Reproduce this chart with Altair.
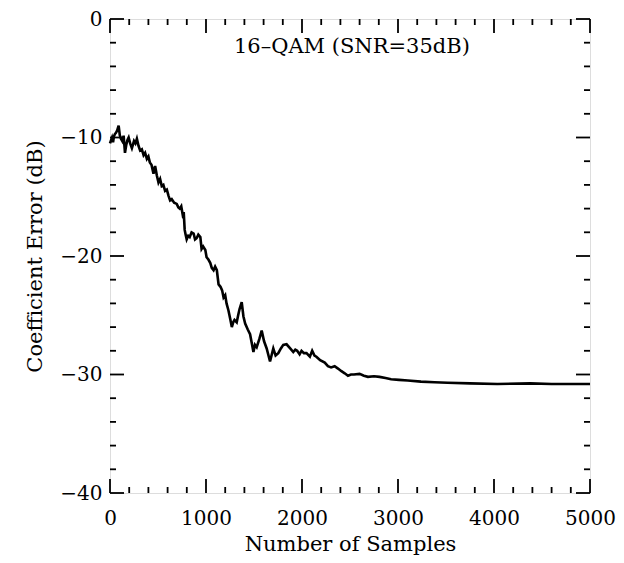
import altair as alt
import pandas as pd

# Curve (samples, coefficient error in dB)
samples = [0, 12, 21, 32, 41, 52, 62, 75, 90, 102, 114, 128, 142, 156, 170, 182, 194, 210, 228,
           250, 265, 280, 297, 314, 332, 350, 366, 384, 400, 415, 432, 453, 470, 488,
           505, 522, 539, 556, 574, 592, 609, 626, 643, 668, 695, 712, 726, 742, 757, 768,
           778, 788, 799, 815, 830, 850, 871, 886, 902, 920, 941, 954, 970, 993, 1006,
           1025, 1045, 1060, 1079, 1095, 1113, 1131, 1151, 1168, 1183, 1200, 1214, 1234,
           1252, 1269, 1283, 1297, 1320, 1335, 1349, 1372, 1390, 1408, 1435, 1459, 1478,
           1494, 1510, 1528, 1556, 1580, 1605, 1632, 1667, 1701, 1725, 1753, 1780, 1805,
           1839, 1877, 1909, 1930, 1950, 1975, 1995, 2020, 2047, 2082, 2106, 2130, 2150,
           2189, 2237, 2270, 2303, 2340, 2375, 2407, 2445, 2479, 2510, 2541, 2600, 2645,
           2687, 2750, 2808, 2870, 2928, 3010, 3102, 3239, 3380, 3516, 3750, 4035, 4377,
           4600, 4792, 5000]
error_db = [-10.5, -10.2, -10.0, -10.4, -9.9, -9.7, -9.6, -9.4, -9.0, -9.8, -10.1, -10.3,
            -9.85, -11.3, -10.6, -10.2, -10.0, -10.5, -10.9, -10.3, -10.5, -10.1, -10.7,
            -11.1, -11.0, -11.5, -11.3, -11.8, -11.6, -12.1, -12.3, -13.05, -12.4, -13.2,
            -13.8, -13.5, -14.1, -14.0, -14.5, -14.4, -14.9, -15.3, -15.2, -15.5, -15.6,
            -15.9, -16.0, -15.8, -16.5, -16.3, -17.8, -18.2, -18.6, -18.3, -18.4, -18.0,
            -18.1, -18.6, -18.5, -18.2, -18.4, -19.4, -19.2, -19.5, -20.1, -20.3, -20.6,
            -21.0, -21.2, -20.9, -21.2, -22.4, -22.6, -22.9, -23.5, -23.3, -24.0, -24.6,
            -25.3, -26.0, -25.6, -25.4, -25.6, -25.0, -24.5, -23.9, -25.1, -25.7, -26.2,
            -26.6, -27.4, -28.1, -27.5, -27.7, -27.0, -26.3, -27.2, -27.8, -28.9, -27.8,
            -28.4, -28.2, -27.8, -27.5, -27.45, -27.8, -28.1, -27.9, -28.0, -28.3, -28.0,
            -28.2, -28.2, -28.5, -28.0, -28.4, -28.5, -28.8, -29.0, -29.3, -29.4, -29.3,
            -29.5, -29.7, -29.9, -30.1, -30.0, -30.0, -29.95, -30.1, -30.2, -30.15, -30.2,
            -30.3, -30.4, -30.45, -30.5, -30.6, -30.65, -30.7, -30.75, -30.8, -30.75,
            -30.8, -30.8, -30.8]

x_major = [0, 1000, 2000, 3000, 4000, 5000]
x_minor = [v for v in range(0, 5001, 200) if v % 1000 != 0]
y_major = [-40, -30, -20, -10, 0]
y_minor = [v for v in range(-40, 1, 2) if v % 10 != 0]

annotation = "16\u2013QAM (SNR=35dB)"
x_title = "Number of Samples"
y_title = "Coefficient Error (dB)"

W, H = 480, 474
MAJ, MIN = 14, 6
FONT = "DejaVu Serif"
FS = 21
LFS = 20

df = pd.DataFrame({"x": samples, "y": error_db})
xs = alt.Scale(domain=[0, 5000], nice=False, zero=False)
ys = alt.Scale(domain=[-40, 0], nice=False, zero=False)

line = alt.Chart(df).mark_line(color="black", strokeWidth=2.6).encode(
    x=alt.X("x:Q", scale=xs, title=x_title,
            axis=alt.Axis(values=x_major, ticks=False, domain=False, grid=False, format="d",
                          labelFont=FONT, labelFontSize=LFS, labelColor="black",
                          labelPadding=15, labelFlush=False, labelOverlap=False,
                          labelBound=False,
                          titleFont=FONT, titleFontSize=FS, titleFontWeight="normal",
                          titleColor="black", titlePadding=5)),
    y=alt.Y("y:Q", scale=ys, title=y_title,
            axis=alt.Axis(values=y_major, ticks=False, domain=False, grid=False, format="d",
                          labelFont=FONT, labelFontSize=LFS, labelColor="black",
                          labelPadding=8, labelFlush=False, labelOverlap=False,
                          titleFont=FONT, titleFontSize=FS, titleFontWeight="normal",
                          titleColor="black", titlePadding=14)),
)

def xticks(vals, L):
    d = pd.DataFrame({"x": vals})
    bot = alt.Chart(d).mark_rule(color="black", strokeWidth=1.8).encode(
        x=alt.X("x:Q", scale=xs), y=alt.value(H), y2=alt.value(H - L))
    top = alt.Chart(d).mark_rule(color="black", strokeWidth=1.8).encode(
        x=alt.X("x:Q", scale=xs), y=alt.value(0), y2=alt.value(L))
    return [bot, top]

def yticks(vals, L):
    d = pd.DataFrame({"y": vals})
    left = alt.Chart(d).mark_rule(color="black", strokeWidth=1.8).encode(
        y=alt.Y("y:Q", scale=ys), x=alt.value(0), x2=alt.value(L))
    right = alt.Chart(d).mark_rule(color="black", strokeWidth=1.8).encode(
        y=alt.Y("y:Q", scale=ys), x=alt.value(W), x2=alt.value(W - L))
    return [left, right]

label_df = pd.DataFrame({"x": [2520], "y": [-2.4], "t": [annotation]})
label = alt.Chart(label_df).mark_text(font=FONT, fontSize=FS, color="black").encode(
    x=alt.X("x:Q", scale=xs), y=alt.Y("y:Q", scale=ys), text="t:N")

layers = [line] + xticks(x_major, MAJ) + xticks(x_minor, MIN) + \
         yticks(y_major, MAJ) + yticks(y_minor, MIN) + [label]

chart = alt.layer(*layers).properties(
    width=W, height=H,
    padding={"left": 102, "top": 11, "right": 26, "bottom": 62},
    autosize=alt.AutoSizeParams(type="none"),
).configure_view(stroke="black", strokeWidth=2.4).configure(background="white")

chart.save("out.html", embed_options={"renderer": "svg", "actions": False})
